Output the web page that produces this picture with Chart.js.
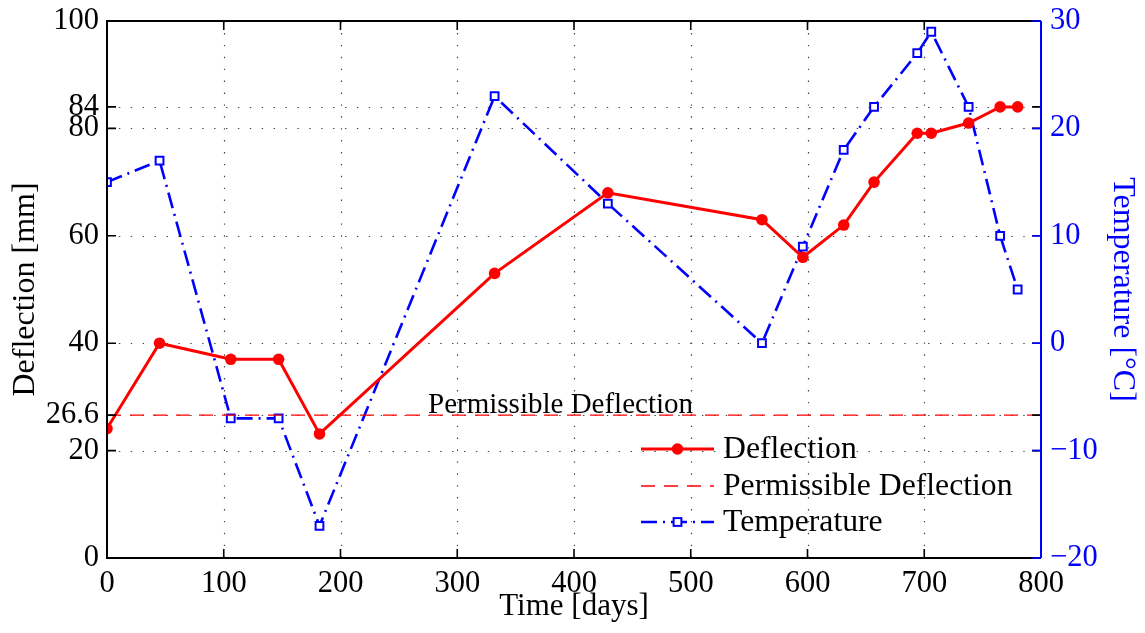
<!DOCTYPE html>
<html><head><meta charset="utf-8">
<script src="https://cdn.jsdelivr.net/npm/chart.js@4/dist/chart.umd.min.js"></script>
<style>html,body{margin:0;padding:0;background:#fff}#wrap{width:1145px;height:633px}</style>
</head><body><div id="wrap"><canvas id="c" width="1145" height="633"></canvas></div>
<script>
// ---- data ----
const days = [0,45,106,147,182,332,429,561,596,631,657,694,706,738,765,780];
const deflection = [24.1,40,37,37,23.1,53,68,63,56,62,70,79.1,79.1,81,84,84];
const temperature = [15,17,-7,-7,-17,23,13,0,9,18,22,27,29,22,10,5];
const permissibleValue = 26.6;
const permissibleRange = [0,800];
const permissibleLabel = 'Permissible Deflection';
const xTicks = [0,100,200,300,400,500,600,700,800];
const yTicks = [0,20,26.6,40,60,80,84,100];
const y2Ticks = [-20,-10,0,10,20,30];
const seriesNames = ['Deflection','Permissible Deflection','Temperature'];

const FONT = 'Liberation Serif';
const RED = '#ff0000', BLUE = '#0000ff';

const defPts = days.map((d,i)=>({x:d,y:deflection[i]}));
const tempPts = days.map((d,i)=>({x:d,y:temperature[i]}));
const permPts = permissibleRange.map(d=>({x:d,y:permissibleValue}));

const frame = {
  id:'frame',
  beforeDatasetsDraw(chart){
    const {ctx, chartArea:a, scales} = chart;
    ctx.save();
    ctx.strokeStyle = '#444'; ctx.lineWidth = 1.2; ctx.setLineDash([1.4,10.5]);
    xTicks.forEach(v=>{ if(v===0||v===800) return; const x=Math.round(scales.x.getPixelForValue(v))+0.5;
      ctx.beginPath(); ctx.moveTo(x,a.bottom); ctx.lineTo(x,a.top); ctx.stroke(); });
    yTicks.forEach(v=>{ if(v===0||v===100) return; const y=Math.round(scales.y.getPixelForValue(v))+0.5;
      ctx.beginPath(); ctx.moveTo(a.left,y); ctx.lineTo(a.right,y); ctx.stroke(); });
    ctx.restore();
  },
  afterDatasetsDraw(chart){
    const {ctx, chartArea:a, scales} = chart;
    const T = 9;
    ctx.save();
    ctx.setLineDash([]);
    ctx.lineWidth = 1.6; ctx.strokeStyle = '#000';
    xTicks.forEach(v=>{ const x=scales.x.getPixelForValue(v);
      ctx.beginPath(); ctx.moveTo(x,a.bottom); ctx.lineTo(x,a.bottom-T); ctx.moveTo(x,a.top); ctx.lineTo(x,a.top+T); ctx.stroke(); });
    yTicks.forEach(v=>{ const y=scales.y.getPixelForValue(v);
      ctx.beginPath(); ctx.moveTo(a.left,y); ctx.lineTo(a.left+T,y); ctx.moveTo(a.right,y); ctx.lineTo(a.right-T,y); ctx.stroke(); });
    ctx.lineWidth = 2;
    ctx.beginPath(); ctx.moveTo(a.right,a.top); ctx.lineTo(a.left,a.top); ctx.lineTo(a.left,a.bottom); ctx.lineTo(a.right,a.bottom); ctx.stroke();
    ctx.strokeStyle = BLUE; ctx.lineWidth = 2;
    ctx.beginPath(); ctx.moveTo(a.right,a.top); ctx.lineTo(a.right,a.bottom); ctx.stroke();
    ctx.lineWidth = 1.6;
    y2Ticks.forEach(v=>{ const y=scales.y2.getPixelForValue(v);
      ctx.beginPath(); ctx.moveTo(a.right,y); ctx.lineTo(a.right-T,y); ctx.stroke(); });
    ctx.restore();
  },
  afterDraw(chart){
    const {ctx, scales} = chart;
    ctx.save();
    ctx.font = '29px "'+FONT+'"'; ctx.fillStyle = '#000'; ctx.textBaseline='alphabetic'; ctx.textAlign='left';
    ctx.fillText(permissibleLabel, scales.x.getPixelForValue(275), scales.y.getPixelForValue(permissibleValue)-2);
    const rows = [449,486,522];
    const x1 = 641, x2 = 714, xm = (x1+x2)/2, tx = 723;
    ctx.font = '31.7px "'+FONT+'"'; ctx.textBaseline='middle';
    chart.data.datasets.forEach((ds,i)=>{
      const y = rows[i];
      ctx.save();
      ctx.strokeStyle = ds.borderColor; ctx.lineWidth = ds.borderWidth; ctx.setLineDash(ds.borderDash||[]);
      ctx.beginPath(); ctx.moveTo(x1,y); ctx.lineTo(x2,y); ctx.stroke();
      ctx.setLineDash([]);
      if (ds.pointRadius>0){
        if (ds.pointStyle==='circle'){ ctx.fillStyle=ds.pointBackgroundColor; ctx.beginPath(); ctx.arc(xm,y,ds.pointRadius,0,Math.PI*2); ctx.fill(); }
        else { const s=ds.pointRadius*Math.SQRT1_2; ctx.fillStyle='#fff'; ctx.fillRect(xm-s,y-s,2*s,2*s); ctx.lineWidth=ds.pointBorderWidth; ctx.strokeStyle=ds.pointBorderColor; ctx.strokeRect(xm-s,y-s,2*s,2*s); }
      }
      ctx.restore();
      ctx.fillStyle = '#000'; ctx.fillText(ds.label, tx, y+1);
    });
    ctx.restore();
  }
};

const tickFont = {family:FONT, size:30.5};
const titleFont = {family:FONT, size:32};
new Chart(document.getElementById('c'), {
  type:'line',
  data:{datasets:[
    {label:seriesNames[0], data:defPts, yAxisID:'y', borderColor:RED, backgroundColor:RED, borderWidth:3,
     pointStyle:'circle', pointRadius:5.8, pointBackgroundColor:RED, pointBorderColor:RED, pointBorderWidth:0, tension:0},
    {label:seriesNames[1], data:permPts, yAxisID:'y', borderColor:RED, borderWidth:1.4, borderDash:[14,9], pointRadius:0},
    {label:seriesNames[2], data:tempPts, yAxisID:'y2', borderColor:BLUE, backgroundColor:BLUE, borderWidth:2.6, borderDash:[16,6,2,6],
     pointStyle:'rect', pointRadius:5.5, pointBackgroundColor:'#fff', pointBorderColor:BLUE, pointBorderWidth:2, tension:0}
  ]},
  options:{
    responsive:false, animation:false, devicePixelRatio:1,
    layout:{padding:{top:21,left:0,right:0,bottom:0}},
    plugins:{legend:{display:false}, tooltip:{enabled:false}},
    scales:{
      x:{type:'linear', position:'bottom', min:0, max:800,
         afterBuildTicks(s){ s.ticks = xTicks.map(v=>({value:v})); },
         afterFit(s){ s.height = 75; s.paddingLeft = 0; s.paddingRight = 0; },
         ticks:{font:tickFont, color:'#000', padding:8, maxRotation:0, autoSkip:false},
         grid:{display:false, drawTicks:false}, border:{display:false},
         title:{display:true, text:'Time [days]', font:{family:FONT,size:31}, color:'#000', padding:{top:0,bottom:8}}},
      y:{type:'linear', position:'left', min:0, max:100,
         afterBuildTicks(s){ s.ticks = yTicks.map(v=>({value:v})); },
         afterFit(s){ s.width = 107; s.paddingTop = 0; s.paddingBottom = 0; },
         ticks:{font:tickFont, color:'#000', padding:8, autoSkip:false, callback:v=>String(v)},
         grid:{display:false, drawTicks:false}, border:{display:false},
         title:{display:true, text:'Deflection [mm]', font:titleFont, color:'#000', padding:{top:6,bottom:0}}},
      y2:{type:'linear', position:'right', min:-20, max:30,
         afterBuildTicks(s){ s.ticks = y2Ticks.map(v=>({value:v})); },
         afterFit(s){ s.width = 104; s.paddingTop = 0; s.paddingBottom = 0; },
         ticks:{font:tickFont, color:BLUE, padding:9, autoSkip:false, callback:v=>v<0?'\u2212'+Math.abs(v):String(v)},
         grid:{display:false, drawTicks:false}, border:{display:false},
         title:{display:true, text:'Temperature [°C]', font:titleFont, color:BLUE, padding:{top:3,bottom:0}}}
    }
  },
  plugins:[frame]
});
</script></body></html>
